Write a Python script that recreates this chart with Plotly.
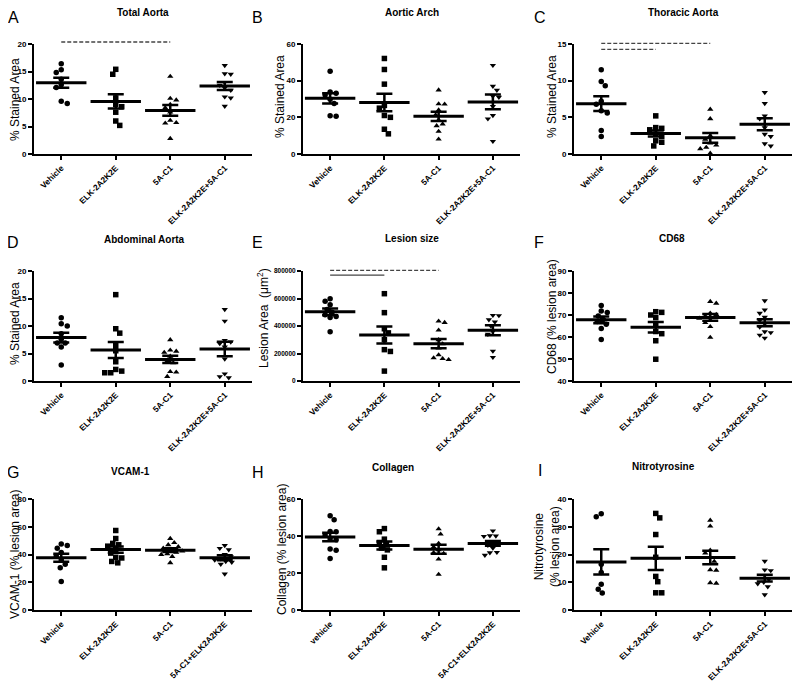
import numpy as np
import plotly.graph_objects as go
from plotly.subplots import make_subplots

# group labels
groups = ["Vehicle", "ELK-2A2K2E", "5A-C1", "ELK-2A2K2E+5A-C1"]
groups_vcam = ["Vehicle", "ELK-2A2K2E", "5A-C1", "5A-C1+ELK2A2K2E"]
groups_collagen = ["vehicle", "ELK-2A2K2E", "5A-C1", "5A-C1+ELK2A2K2E"]

# individual animals, one list per group (order as in groups above)
total_aorta = [
    [16.4, 15.3, 14.8, 13.6, 12.6, 12.1, 9.6, 9.2],
    [15.4, 14.5, 10.2, 9.0, 8.6, 7.6, 6.0, 5.2],
    [14.1, 10.1, 9.8, 9.0, 8.4, 7.6, 6.1, 5.7, 5.6, 2.8],
    [16.1, 14.6, 14.5, 13.0, 12.5, 12.0, 11.6, 10.4, 10.2, 8.7],
]
aortic_arch = [
    [45.2, 33.8, 33.2, 32.2, 29.8, 27.5, 20.8, 20.6],
    [52.1, 46.1, 38.1, 26.5, 25.0, 21.0, 20.0, 13.5, 11.0],
    [34.9, 27.3, 27.2, 24.0, 21.3, 18.6, 16.3, 15.4, 12.3, 8.1],
    [48.4, 37.0, 34.8, 31.5, 31.0, 26.0, 21.0, 19.2, 6.9],
]
thoracic_aorta = [
    [11.5, 9.9, 9.3, 7.2, 6.8, 5.9, 5.6, 3.2, 2.4],
    [5.2, 3.6, 3.5, 3.3, 2.7, 2.4, 1.8, 1.6, 1.1],
    [6.1, 4.8, 2.5, 2.0, 1.5, 1.2, 0.9, 0.7, 0.1],
    [8.4, 6.9, 5.2, 4.8, 3.6, 2.7, 2.4, 1.4, 1.1],
]
abdominal_aorta = [
    [11.5, 10.4, 10.0, 8.6, 7.6, 6.9, 6.9, 6.2, 2.9],
    [15.7, 9.5, 8.7, 6.5, 5.5, 3.5, 2.1, 1.8, 1.5, 1.5],
    [7.5, 5.6, 5.4, 5.2, 4.5, 3.6, 3.3, 1.7, 1.6, 0.8],
    [13.0, 10.9, 7.4, 7.1, 6.8, 6.2, 4.0, 1.3, 0.8, 0.6],
]
lesion_size = [
    [598000, 580000, 555000, 520000, 500000, 482000, 470000, 462000, 358000],
    [635000, 497000, 380000, 350000, 300000, 228000, 215000, 72000],
    [435000, 425000, 370000, 300000, 270000, 240000, 190000, 168000, 162000, 155000],
    [478000, 476000, 446000, 430000, 400000, 360000, 340000, 218000, 172000],
]
cd68 = [
    [74.3, 71.8, 71.1, 69.5, 68.0, 67.0, 65.8, 63.9, 58.9],
    [71.5, 71.2, 70.0, 68.8, 66.0, 62.5, 61.5, 58.3, 49.9],
    [76.1, 75.3, 70.8, 70.2, 69.5, 68.5, 67.7, 66.5, 64.7, 59.8],
    [76.5, 72.3, 70.8, 69.0, 67.5, 66.0, 64.5, 62.4, 62.0, 60.9, 59.5],
]
vcam1 = [
    [47.5, 46.5, 44.5, 41.5, 39.0, 36.0, 33.0, 30.5, 20.5],
    [57.3, 51.5, 48.0, 47.0, 46.0, 43.5, 41.0, 38.0, 37.5, 35.0, 34.0],
    [51.5, 48.5, 47.0, 45.5, 44.5, 43.5, 42.5, 41.5, 40.5, 40.0, 38.5, 34.0],
    [46.5, 44.5, 43.5, 40.0, 38.5, 37.0, 36.0, 35.0, 34.5, 33.0, 26.0],
]
collagen = [
    [51.0, 48.8, 42.5, 42.3, 40.5, 38.5, 38.0, 33.0, 32.3, 27.8],
    [44.0, 42.3, 38.3, 36.5, 35.5, 33.5, 32.5, 28.5, 22.8],
    [43.8, 41.0, 36.0, 34.0, 32.5, 31.0, 30.5, 27.5, 19.2],
    [42.8, 40.2, 40.0, 39.8, 37.0, 36.0, 35.0, 33.5, 31.2, 31.0, 29.6],
]
nitrotyrosine = [
    [34.7, 33.6, 16.5, 13.5, 9.3, 7.5, 6.1],
    [34.8, 33.2, 27.2, 19.0, 12.1, 10.2, 6.2, 6.2],
    [32.3, 30.2, 21.5, 20.5, 19.0, 17.5, 14.5, 14.3, 9.8, 9.6],
    [17.6, 14.5, 14.2, 12.5, 11.0, 10.0, 9.5, 8.4, 5.5],
]

# y tick values
ticks_total = [0, 5, 10, 15, 20]
ticks_arch = [0, 20, 40, 60]
ticks_thoracic = [0, 5, 10, 15]
ticks_abdominal = [0, 5, 10, 15, 20]
ticks_lesion = [0, 200000, 400000, 600000, 800000]
ticks_cd68 = [40, 50, 60, 70, 80, 90]
ticks_vcam = [0, 20, 40, 60, 80]
ticks_collagen = [0, 20, 40, 60]
ticks_nitro = [0, 10, 20, 30, 40]

# comparison bars: (from group, to group, height in axis fraction, dash)
sig_total = [(0, 2, 1.018, "4px,2px")]
sig_thoracic = [(0, 2, 1.005, "4px,2px"), (0, 1, 0.951, "4px,2px")]
sig_lesion = [(0, 2, 1.005, "4px,2px"), (0, 1, 0.962, "solid")]

panels = [
    dict(data=total_aorta, cats=groups, title="Total Aorta", letter="A",
         ytitle="% Stained Area", ticks=ticks_total, sig=sig_total,
         title_xy=(143, 12.5), letter_xy=(13, 18), ytitle_xy=(15, 100)),
    dict(data=aortic_arch, cats=groups, title="Aortic Arch", letter="B",
         ytitle="% Stained Area", ticks=ticks_arch, sig=[],
         title_xy=(412, 12.5), letter_xy=(258, 18), ytitle_xy=(280, 97)),
    dict(data=thoracic_aorta, cats=groups, title="Thoracic Aorta", letter="C",
         ytitle="% Stained Area", ticks=ticks_thoracic, sig=sig_thoracic,
         title_xy=(683, 13), letter_xy=(540, 18), ytitle_xy=(552, 97)),
    dict(data=abdominal_aorta, cats=groups, title="Abdominal Aorta", letter="D",
         ytitle="% Stained Area", ticks=ticks_abdominal, sig=[],
         title_xy=(144, 239), letter_xy=(13, 242), ytitle_xy=(15, 324)),
    dict(data=lesion_size, cats=groups, title="Lesion size", letter="E",
         ytitle="Lesion Area  (μm<sup>2</sup>)", ticks=ticks_lesion, sig=sig_lesion,
         title_xy=(412, 238), letter_xy=(258, 242), ytitle_xy=(263, 318)),
    dict(data=cd68, cats=groups, title="CD68", letter="F",
         ytitle="CD68 (% lesion area)", ticks=ticks_cd68, sig=[],
         title_xy=(672, 238), letter_xy=(539, 242), ytitle_xy=(552, 317)),
    dict(data=vcam1, cats=groups_vcam, title="VCAM-1", letter="G",
         ytitle="VCAM-1 (% lesion area)", ticks=ticks_vcam, sig=[],
         title_xy=(130, 471), letter_xy=(13, 472), ytitle_xy=(15, 555)),
    dict(data=collagen, cats=groups_collagen, title="Collagen", letter="H",
         ytitle="Collagen (% lesion area)", ticks=ticks_collagen, sig=[],
         title_xy=(393, 467), letter_xy=(258, 472), ytitle_xy=(282, 550)),
    dict(data=nitrotyrosine, cats=groups, title="Nitrotyrosine", letter="I",
         ytitle="Nitrotyrosine<br>(% lesion area)", ticks=ticks_nitro, sig=[],
         title_xy=(663, 466), letter_xy=(540, 470), ytitle_xy=(547, 547)),
]

symbols = ["circle", "square", "triangle-up", "triangle-down"]
# page body has an 8px margin, so the figure is made 8px smaller and everything
# below is laid out in window pixels, then shifted back by OFF
OFF = 8
W, H = 800 - OFF, 681 - OFF
col_px = [(34, 252), (303, 520), (574, 792)]
row_px = [(44, 154), (271, 381), (499, 610)]
FONT = "Liberation Sans, Arial, sans-serif"


def px_x(px):
    return (px - OFF) / W


def px_y(px):
    return 1 - (px - OFF) / H


def swarm(vals, px_per_unit, cat_px, diam=5.5):
    # simple beeswarm: spread points sideways so they don't overlap
    order = np.argsort(vals)[::-1]
    placed = []
    offs = np.zeros(len(vals))
    for i in order:
        yi = vals[i] * px_per_unit
        k = 0
        found = None
        while found is None:
            cands = [0.0] if k == 0 else [-k * 1.0, k * 1.0]
            if k % 2 == 0:
                cands = cands[::-1]
            for xo in cands:
                if all((xo - xp) ** 2 + (yi - yp) ** 2 >= diam ** 2 for xp, yp in placed):
                    found = xo
                    break
            k += 1
        placed.append((found, yi))
        offs[i] = found / cat_px
    return offs


def label(text, xy, size, angle=0):
    return dict(text=text, x=px_x(xy[0]), y=px_y(xy[1]), xref="paper", yref="paper",
                xanchor="center", yanchor="middle", showarrow=False, textangle=angle,
                font=dict(family=FONT, size=size, color="black"))


fig = make_subplots(rows=3, cols=3)
annotations = []
shapes = []

for n, p in enumerate(panels):
    r, c = divmod(n, 3)
    x0, x1 = col_px[c]
    y0, y1 = row_px[r]
    cat_px = (x1 - x0) / 4.0
    ticks = p["ticks"]
    yr = [ticks[0], ticks[-1]]
    px_per_unit = (y1 - y0) / (yr[1] - yr[0])

    for g, vals in enumerate(p["data"]):
        v = np.array(vals, dtype=float)
        offs = swarm(v, px_per_unit, cat_px)
        fig.add_trace(go.Scatter(
            x=g + offs, y=v, mode="markers", cliponaxis=False,
            marker=dict(symbol=symbols[g], size=5.5, color="black", line=dict(width=0)),
            showlegend=False, hoverinfo="skip"), row=r + 1, col=c + 1)
        mean = v.mean()
        sem = v.std(ddof=1) / np.sqrt(len(v))
        fig.add_trace(go.Scatter(
            x=[g], y=[mean], mode="markers", cliponaxis=False,
            marker=dict(symbol="line-ew", size=36, line=dict(width=3, color="black")),
            error_y=dict(type="data", array=[sem], color="black", thickness=2.5, width=8),
            showlegend=False, hoverinfo="skip"), row=r + 1, col=c + 1)

    fig.update_xaxes(
        domain=[px_x(x0), px_x(x1)], range=[-0.5, 3.5],
        tickvals=[0, 1, 2, 3], ticktext=p["cats"], tickangle=-45,
        tickfont=dict(family=FONT, size=8.3, color="black", weight="bold"),
        row=r + 1, col=c + 1)
    fig.update_yaxes(
        domain=[px_y(y1), px_y(y0)], range=yr, tickvals=ticks, tickformat="d",
        tickfont=dict(family=FONT, size=6.5 if n == 4 else 8, color="black", weight="bold"),
        row=r + 1, col=c + 1)

    xref = "x" if n == 0 else "x%d" % (n + 1)
    yref = ("y" if n == 0 else "y%d" % (n + 1)) + " domain"
    for a, b, h, dash in p["sig"]:
        shapes.append(dict(type="line", xref=xref, yref=yref, x0=a, x1=b, y0=h, y1=h,
                           line=dict(color="#444444", width=1.3, dash=dash)))

    annotations.append(label("<b>%s</b>" % p["title"], p["title_xy"], 10))
    annotations.append(label(p["letter"], p["letter_xy"], 16))
    annotations.append(label(p["ytitle"], p["ytitle_xy"], 12, angle=-90))

fig.update_xaxes(showline=True, linecolor="black", linewidth=2, ticks="outside",
                 ticklen=4, tickwidth=1.5, tickcolor="black", showgrid=False,
                 zeroline=False, automargin=False)
fig.update_yaxes(showline=True, linecolor="black", linewidth=2, ticks="outside",
                 ticklen=4, tickwidth=1.5, tickcolor="black", showgrid=False,
                 zeroline=False, automargin=False)

fig.update_layout(
    width=W, height=H, margin=dict(l=0, r=0, t=0, b=0),
    paper_bgcolor="white", plot_bgcolor="white",
    font=dict(family=FONT, color="black"),
    annotations=annotations, shapes=shapes, showlegend=False,
)

fig.write_html("out.html")
